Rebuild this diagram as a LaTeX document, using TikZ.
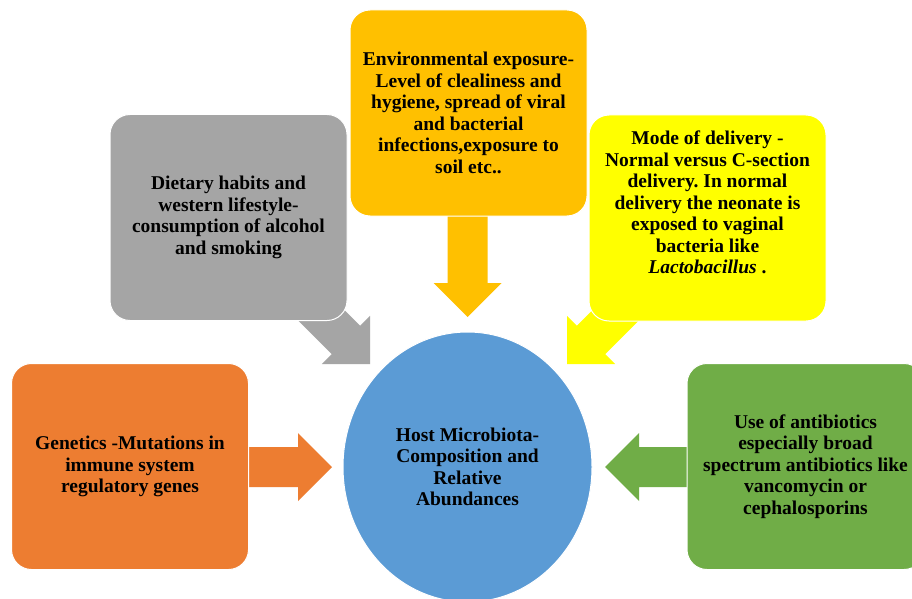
\documentclass[tikz,border=0pt]{standalone}
\usepackage{fontspec}
\setmainfont{Liberation Serif}
\usetikzlibrary{shapes.geometric,backgrounds}
\definecolor{cgray}{HTML}{A5A5A5}
\definecolor{cgold}{HTML}{FFC000}
\definecolor{cyel}{HTML}{FFFF00}
\definecolor{corange}{HTML}{ED7D31}
\definecolor{cgreen}{HTML}{70AD47}
\definecolor{cblue}{HTML}{5B9BD5}
% #1 tip coordinate, #2 direction angle, #3 total length, #4 colour
\newcommand\blockarrow[4]{%
  \fill[#4,shift={(#1)},rotate=#2] (0,0) -- (-34,34) -- (-34,20) -- (-#3,20)
    -- (-#3,-20) -- (-34,-20) -- (-34,-34) -- cycle;}
\begin{document}
\frenchspacing
\begin{tikzpicture}[x=1pt,y=-1pt,
  txt/.style={align=center, font=\fontsize{19.5}{21.5}\selectfont\bfseries, text=black},
  box/.style={txt, rectangle, rounded corners=20pt, minimum width=237pt,
    minimum height=206pt, draw=white, line width=1pt, inner sep=2pt},
  hub/.style={txt, ellipse, minimum width=249pt, minimum height=270pt,
    draw=white, line width=1pt, inner sep=0pt, fill=cblue}]
\useasboundingbox (0,0) rectangle (912,599);
\clip (0,0) rectangle (912,599);

\node[box, fill=cgray] (diet) at (228.5,217.5)
  {Dietary habits and\\western lifestyle-\\consumption of alcohol\\and smoking};
\node[box, fill=cgold] (env) at (468.5,113)
  {Environmental exposure-\\Level of clealiness and\\hygiene, spread of viral\\and bacterial\\infections,exposure to\\soil etc..};
\node[box, fill=cyel] (mode) at (707.5,218)
  {Mode of delivery -\\Normal versus C-section\\delivery. In normal\\delivery the neonate is\\exposed to vaginal\\bacteria like\\\textit{Lactobacillus} .\\[10pt]\mbox{}};
\node[box, fill=corange] (gen) at (130,466.5)
  {Genetics -Mutations in\\immune system\\regulatory genes};
\node[box, fill=cgreen] (anti) at (805.5,466.5)
  {Use of antibiotics\\especially broad\\spectrum antibiotics like\\vancomycin or\\cephalosporins};
\node[hub] (host) at (467.5,467)
  {Host Microbiota-\\Composition and\\Relative\\Abundances};

\coordinate (tipDiet) at (370,364);
\coordinate (tipEnv) at (467.5,317);
\coordinate (tipMode) at (567,364);
\coordinate (tipGen) at (332,467);
\coordinate (tipAnti) at (605,467);

\begin{pgfonlayer}{background}
  \fill[white] (0,0) rectangle (912,599);
  \blockarrow{tipDiet}{-45}{95}{cgray}
  \blockarrow{tipEnv}{-90}{112}{cgold}
  \blockarrow{tipMode}{-135}{95}{cyel}
  \blockarrow{tipGen}{0}{92}{corange}
  \blockarrow{tipAnti}{180}{90}{cgreen}
\end{pgfonlayer}
\end{tikzpicture}
\end{document}
